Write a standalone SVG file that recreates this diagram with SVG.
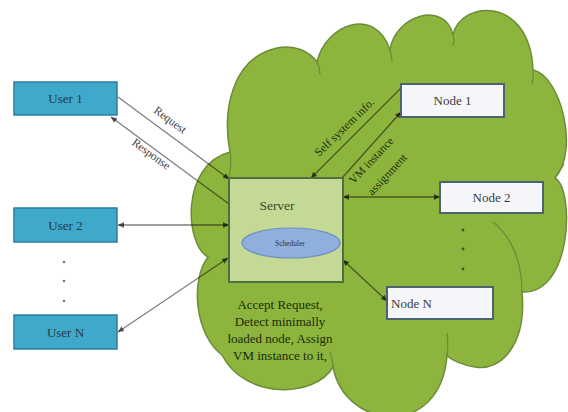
<svg xmlns="http://www.w3.org/2000/svg" width="568" height="412" viewBox="0 0 568 412" font-family="'Liberation Serif','Times New Roman',serif">
<style>
.t{font-family:"Liberation Serif","Times New Roman",serif;}
.user rect{fill:#3fa9cb;stroke:#2d7f9c;stroke-width:1.5;}
.user text{font-size:13px;fill:#2b3a44;text-anchor:middle;}
.node rect{fill:#f5f6fa;stroke:#4b6470;stroke-width:2;}
.node text{font-size:13px;fill:#3a3a3a;}
.con line{stroke:#000;stroke-opacity:0.5;stroke-width:1.3;fill:none;}
.lbl{font-size:11.5px;fill:#3a3a3a;}
.lblg{font-size:11.5px;fill:#1d2d0c;}
.inner{fill:none;stroke:#6c8c3a;stroke-width:1.3;}
.dot{fill:#777;}
.dotg{fill:#3d5a1c;}
</style>
<defs>
<marker id="arr" markerUnits="userSpaceOnUse" markerWidth="8" markerHeight="8" refX="6" refY="3" orient="auto-start-reverse">
<path d="M0,0 L6,3 L0,6 Z" fill="#000" fill-opacity="0.6"/>
</marker>
</defs>
<rect width="568" height="412" fill="#ffffff"/>
<g id="cloud">
<path d="M230,152 C222,110 232,58 277,48 C295,44 310,52 317,62 C325,25 375,5 390,50 C395,15 445,0 453,35 C460,0 530,-5 533,70 C560,75 580,150 555,178 C575,190 572,295 522,292 C527,345 500,372 475,367 C462,365 452,360 447,356 C440,440 345,430 333,367 C315,398 245,400 222,355 C195,335 190,280 208,257 C185,245 180,165 230,152 Z" fill="#8db53d" stroke="#6c8c3a" stroke-width="1.5"/>
<path class="inner" d="M230,152 C232,162 230,170 229,178"/>
<path class="inner" d="M317,62 C319,66 320,70 320,74"/>
<path class="inner" d="M390,50 C391,54 392,58 392,61"/>
<path class="inner" d="M453,35 C454,39 454,43 453,46"/>
<path class="inner" d="M533,70 C534,76 533,80 532,84"/>
<path class="inner" d="M555,178 C559,172 561,168 564,164"/>
<path class="inner" d="M493,222 C510,235 522,260 522,292"/>
<path class="inner" d="M447,333 C448,341 448,349 447,356"/>
<path class="inner" d="M330,352 C332,358 333,362 333,367"/>
</g>
<g id="user1" class="user"><rect x="14" y="82" width="103" height="33"/><text class="t" x="65.5" y="103">User 1</text></g>
<g id="user2" class="user"><rect x="14" y="208" width="103" height="34"/><text class="t" x="65.5" y="230">User 2</text></g>
<g id="userN" class="user"><rect x="14" y="315" width="103" height="34"/><text class="t" x="65.5" y="337">User N</text></g>
<g id="user-dots"><circle class="dot" cx="64" cy="262" r="1.3"/><circle class="dot" cx="64" cy="281" r="1.3"/><circle class="dot" cx="64" cy="301" r="1.3"/></g>
<g id="connectors" class="con">
<line x1="118" y1="97" x2="229" y2="179" marker-end="url(#arr)"/>
<line x1="229" y1="204" x2="111" y2="117" marker-end="url(#arr)"/>
<line x1="118" y1="225" x2="229" y2="225" marker-start="url(#arr)" marker-end="url(#arr)"/>
<line x1="118" y1="332" x2="228" y2="258" marker-start="url(#arr)" marker-end="url(#arr)"/>
<line x1="401" y1="88" x2="311" y2="178" marker-end="url(#arr)"/>
<line x1="342" y1="178" x2="401" y2="112" marker-end="url(#arr)"/>
<line x1="343" y1="197" x2="440" y2="197" marker-start="url(#arr)" marker-end="url(#arr)"/>
<line x1="343" y1="260" x2="387" y2="301" marker-start="url(#arr)" marker-end="url(#arr)"/>
</g>
<g id="conn-labels">
<text class="t lbl" transform="translate(168,123) rotate(36)" text-anchor="middle">Request</text>
<text class="t lbl" transform="translate(149,157) rotate(36)" text-anchor="middle">Response</text>
<text class="t lblg" transform="translate(347,130) rotate(-44)" text-anchor="middle">Self system info.</text>
<text class="t lblg" transform="translate(374,163) rotate(-47)" text-anchor="middle">VM instance</text>
<text class="t lblg" transform="translate(390,177) rotate(-47)" text-anchor="middle">assignment</text>
</g>
<g id="node1" class="node"><rect x="401" y="84" width="103" height="33"/><text class="t" x="452.5" y="105" text-anchor="middle">Node 1</text></g>
<g id="node2" class="node"><rect x="440" y="182" width="103" height="31"/><text class="t" x="491.5" y="202" text-anchor="middle">Node 2</text></g>
<g id="nodeN" class="node"><rect x="387" y="287" width="106" height="32"/><text class="t" x="391" y="308">Node N</text></g>
<g id="node-dots"><circle class="dotg" cx="463" cy="230" r="1.4"/><circle class="dotg" cx="463" cy="249" r="1.4"/><circle class="dotg" cx="463" cy="269" r="1.4"/></g>
<g id="server">
<rect x="229" y="178" width="114" height="104" fill="#c3d995" stroke="#4f6f3f" stroke-width="2"/>
<text class="t" x="277" y="210" font-size="13.5" fill="#3c4a30" text-anchor="middle">Server</text>
<g id="scheduler">
<ellipse cx="291" cy="243" rx="49" ry="15" fill="#8fb0dc" stroke="#6e8fc2" stroke-width="1.2"/>
<text class="t" x="290" y="246" font-size="7.5" fill="#333" text-anchor="middle">Scheduler</text>
</g>
</g>
<g id="server-note" class="t" font-size="13" fill="#1c2a0a" text-anchor="middle">
<text x="280" y="309">Accept Request,</text>
<text x="280" y="326">Detect minimally</text>
<text x="280" y="343">loaded node, Assign</text>
<text x="280" y="360">VM instance to it,</text>
</g>
</svg>
